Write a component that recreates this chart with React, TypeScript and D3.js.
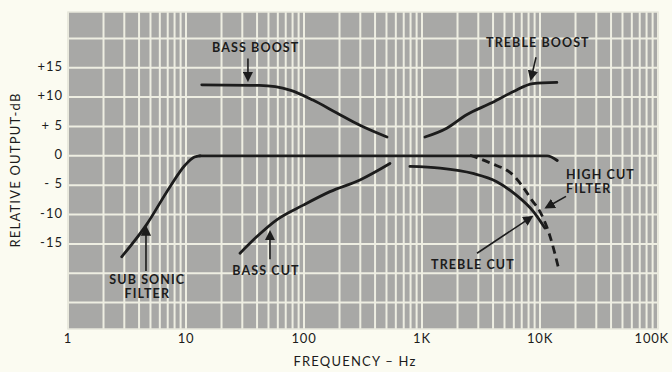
import React from "react";
import * as d3 from "d3";

// ---- data (frequency in Hz, relative output in dB) ----
const flatResponse: [number, number][] = [[13, 0], [1000, 0], [11500, 0], [14000, -0.8]];
const subsonicFilter: [number, number][] = [[2.85, -17.2], [4.6, -11.8], [7.3, -5.3], [9.8, -1.6], [11.8, -0.2], [13.2, 0]];
const bassBoost: [number, number][] = [[13.6, 12.1], [42, 12], [76, 11.2], [119, 9.5], [190, 7.3], [298, 5.2], [505, 3.2]];
const trebleBoost: [number, number][] = [[1060, 3.2], [1620, 4.7], [2390, 7], [3770, 8.9], [5900, 10.9], [8700, 12.3], [13900, 12.5]];
const bassCut: [number, number][] = [[28.7, -16.6], [39.7, -13.8], [58.7, -10.9], [98.6, -8.4], [166, -6.1], [298, -4.1], [535, -1.3]];
const trebleCut: [number, number][] = [[790, -1.8], [1420, -2.1], [2700, -3.0], [4300, -4.4], [6300, -6.7], [8800, -9.5], [11000, -12.3]];
const highCutFilter: [number, number][] = [[2550, 0.1], [3770, -1.2], [6140, -3.6], [7460, -5.8], [8500, -7.5], [10000, -9.5], [12200, -13.8], [14300, -19]];

const yTickValues = [15, 10, 5, 0, -5, -10, -15];
const yTickLabels = ["+15", "+10", "+ 5", "0", "- 5", "-10", "-15"];
const xTickValues = [1, 10, 100, 1000, 10000, 100000];
const xTickLabels = ["1", "10", "100", "1K", "10K", "100K"];
const hGridValues = [-25, -20, -15, -10, -5, 0, 5, 10, 15, 20];

// annotations: text lines at (freq, dB), pointer from -> to (freq, dB)
const annotations = [
  { lines: ["BASS BOOST"], at: [39, 18.2], anchor: "middle", from: [33.5, 16.6], to: [33.5, 12.9] },
  { lines: ["TREBLE BOOST"], at: [9600, 19], anchor: "middle", from: [9250, 16.8], to: [8390, 13.1] },
  { lines: ["SUB SONIC", "FILTER"], at: [4.7, -21.3], anchor: "middle", from: [4.58, -19.6], to: [4.58, -12.2] },
  { lines: ["BASS CUT"], at: [47.6, -19.8], anchor: "middle", from: [51.5, -17.6], to: [51.5, -13] },
  { lines: ["TREBLE CUT"], at: [2700, -18.8], anchor: "middle", from: [2925, -16.6], to: [8500, -10.4] },
  { lines: ["HIGH CUT", "FILTER"], at: [16600, -3.4], anchor: "start", from: [16600, -6.9], to: [11300, -8.8] },
];

const W = 672;
const H = 372;
const FONT = "Lato, 'Open Sans', sans-serif";
const INK = "#1c1c1c";

export default function App() {
  const x = d3.scaleLog().domain([1, 100000]).range([68, 658]);
  const y = d3.scaleLinear().domain([-29.5, 24.5]).range([329, 12]);
  const [x0, x1] = x.range();
  const [y0, y1] = y.range();

  const vGrid: number[] = [];
  for (let dec = 1; dec < 100000; dec *= 10) {
    for (let k = 1; k <= 9; k++) vGrid.push(dec * k);
  }
  vGrid.push(100000);

  const line = d3
    .line<[number, number]>()
    .x((d) => x(d[0]))
    .y((d) => y(d[1]))
    .curve(d3.curveMonotoneX);

  const solid = [flatResponse, subsonicFilter, bassBoost, trebleBoost, bassCut, trebleCut];

  return (
    <svg
      width={W}
      height={H}
      style={{ position: "absolute", left: 0, top: 0, background: "#fbfbf1" }}
    >
      <defs>
        <marker id="arr" viewBox="0 0 10 10" refX="8" refY="5" markerWidth="6.5" markerHeight="6.5" orient="auto-start-reverse">
          <path d="M0,0 L10,5 L0,10 z" fill={INK} />
        </marker>
      </defs>
      <rect x={0} y={0} width={W} height={H} fill="#fbfbf1" />
      {/* plot area */}
      <rect x={x0} y={y1} width={x1 - x0} height={y0 - y1} fill="#a8a8a6" />
      {vGrid.map((v, i) => (
        <line key={"v" + i} x1={x(v)} x2={x(v)} y1={y1} y2={y0} stroke="#eeeee2" strokeWidth={2} />
      ))}
      {hGridValues.map((v) => (
        <line key={"h" + v} x1={x0} x2={x1} y1={y(v)} y2={y(v)} stroke="#eeeee2" strokeWidth={2} />
      ))}
      <rect x={x0} y={y1} width={x1 - x0} height={y0 - y1} fill="none" stroke="#e8e8dc" strokeWidth={1.5} />

      {/* curves */}
      {solid.map((s, i) => (
        <path key={"c" + i} d={line(s) || ""} fill="none" stroke={INK} strokeWidth={2.8} strokeLinecap="round" />
      ))}
      <path d={line(highCutFilter) || ""} fill="none" stroke={INK} strokeWidth={2.8} strokeDasharray="8 5" />

      {/* annotations */}
      {annotations.map((a, i) => (
        <g key={"a" + i}>
          <line
            x1={x(a.from[0])}
            y1={y(a.from[1])}
            x2={x(a.to[0])}
            y2={y(a.to[1])}
            stroke={INK}
            strokeWidth={1.6}
            markerEnd="url(#arr)"
          />
          {a.lines.map((t, j) => (
            <text
              key={j}
              x={x(a.at[0])}
              y={y(a.at[1]) + j * 14}
              textAnchor={a.anchor as any}
              dominantBaseline="middle"
              fontFamily={FONT}
              fontWeight={700}
              fontSize={12.5}
              letterSpacing={1.1}
              fill={INK}
            >
              {t}
            </text>
          ))}
        </g>
      ))}

      {/* y ticks */}
      {yTickValues.map((v, i) => (
        <text
          key={"yt" + v}
          x={63}
          y={y(v)}
          textAnchor="end"
          dominantBaseline="middle"
          fontFamily={FONT}
          fontSize={13}
          letterSpacing={1}
          fill={INK}
          style={{ whiteSpace: "pre" }}
        >
          {yTickLabels[i]}
        </text>
      ))}
      {/* x ticks */}
      {xTickValues.map((v, i) => {
        const last = i === xTickValues.length - 1;
        return (
          <text
            key={"xt" + v}
            x={last ? x(v) + 11 : x(v)}
            y={340}
            textAnchor={last ? "end" : "middle"}
            dominantBaseline="middle"
            fontFamily={FONT}
            fontSize={13}
            letterSpacing={0.8}
            fill={INK}
          >
            {xTickLabels[i]}
          </text>
        );
      })}
      <text
        x={355}
        y={363}
        textAnchor="middle"
        dominantBaseline="middle"
        fontFamily={FONT}
        fontSize={13}
        letterSpacing={1.2}
        fill={INK}
      >
        FREQUENCY – Hz
      </text>
      <text
        transform="translate(17,170) rotate(-90)"
        textAnchor="middle"
        dominantBaseline="middle"
        fontFamily={FONT}
        fontSize={13}
        letterSpacing={1.2}
        fill={INK}
      >
        RELATIVE OUTPUT-dB
      </text>
    </svg>
  );
}
